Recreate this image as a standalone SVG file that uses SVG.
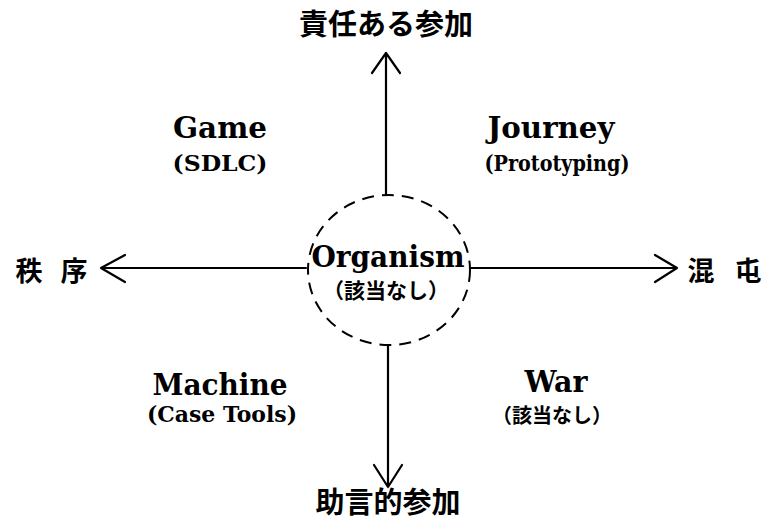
<svg xmlns="http://www.w3.org/2000/svg" width="769" height="532" viewBox="0 0 769 532">
<defs>
<style>
.ax{stroke:#000;stroke-width:2.2;fill:none;stroke-linecap:round;stroke-linejoin:round}
.t{font-family:"DejaVu Serif","Liberation Serif",serif;fill:#000;text-anchor:middle;font-weight:bold}
.big{font-size:30px}
.sub{font-size:23px}
.jp{font-family:"Noto Sans CJK JP","Noto Sans CJK SC",sans-serif;font-weight:bold;fill:#000;text-anchor:middle}
.circ{stroke:#000;stroke-width:2;fill:none;stroke-dasharray:12 8}
</style>
</defs>
<rect width="769" height="532" fill="#fff"/>
<g id="connectors">
<path class="ax" d="M386,195 V53 M372,73 L386,53 L400,73"/>
<path class="ax" d="M388,345 V487 M374,465 L388,487 L402,465"/>
<path class="ax" d="M306,268 H101 M125,255 L101,268 L125,282"/>
<path class="ax" d="M471,268 H677 M655,255 L677,268 L655,282"/>
</g>
<g id="organism">
<ellipse class="circ" cx="389" cy="270" rx="81" ry="75"/>
<text class="t big" x="388" y="267" textLength="153" lengthAdjust="spacingAndGlyphs">Organism</text>
<text class="jp" x="386" y="298" font-size="21">（該当なし）</text>
</g>
<g id="top">
<text class="jp" x="386" y="35" font-size="29">責任ある参加</text>
</g>
<g id="bottom">
<text class="jp" x="388" y="513" font-size="29">助言的参加</text>
</g>
<g id="left">
<text class="jp" x="29" y="281" font-size="27">秩</text>
<text class="jp" x="74" y="281" font-size="27">序</text>
</g>
<g id="right">
<text class="jp" x="701" y="281" font-size="27">混</text>
<text class="jp" x="748" y="281" font-size="27">屯</text>
</g>
<g id="game">
<text class="t big" x="220" y="138" textLength="94" lengthAdjust="spacingAndGlyphs">Game</text>
<text class="t sub" x="220" y="171" textLength="95" lengthAdjust="spacingAndGlyphs">(SDLC)</text>
</g>
<g id="journey">
<text class="t big" x="551" y="138" textLength="127" lengthAdjust="spacingAndGlyphs">Journey</text>
<text class="t sub" x="557" y="171" textLength="145" lengthAdjust="spacingAndGlyphs">(Prototyping)</text>
</g>
<g id="machine">
<text class="t big" x="220" y="395" textLength="135" lengthAdjust="spacingAndGlyphs">Machine</text>
<text class="t sub" x="222" y="422" textLength="150" lengthAdjust="spacingAndGlyphs">(Case Tools)</text>
</g>
<g id="war">
<text class="t big" x="556" y="392" textLength="63" lengthAdjust="spacingAndGlyphs">War</text>
<text class="jp" x="552" y="423" font-size="20">（該当なし）</text>
</g>
</svg>
